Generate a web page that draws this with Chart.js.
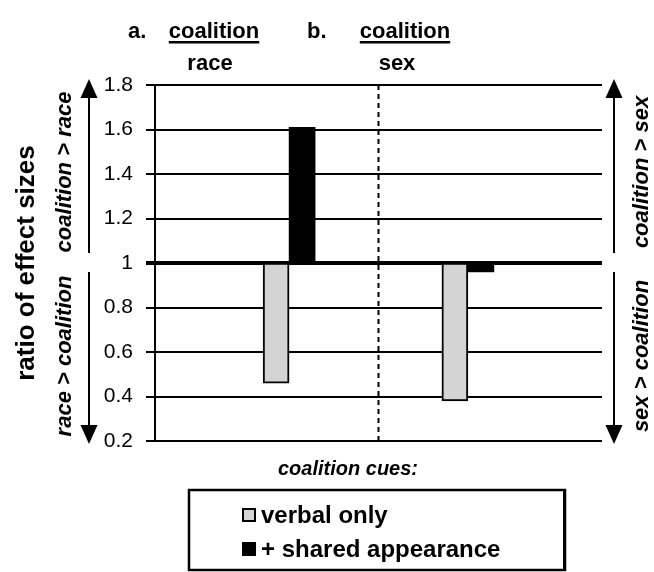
<!DOCTYPE html>
<html><head><meta charset="utf-8">
<script src="https://cdn.jsdelivr.net/npm/chart.js@4"></script>
<style>html,body{margin:0;padding:0;background:#fff;}</style>
</head><body>
<canvas id="c" width="654" height="572"></canvas>
<script>
// ---- data ----
const panelLetters = ['a.', 'b.'];
const panelHeads = ['coalition', 'coalition'];
const panelSubs = ['race', 'sex'];
const groups = [0, 1];
const verbalOnly = [0.46, 0.38];
const sharedAppearance = [1.61, 0.96];
const baseline = 1;
const yTickValues = [0.2, 0.4, 0.6, 0.8, 1, 1.2, 1.4, 1.6, 1.8];
const seriesNames = ['verbal only', '+ shared appearance'];
const legendTitle = 'coalition cues:';
const yTitle = 'ratio of effect sizes';
const sideUp = ['coalition > race', 'coalition > sex'];
const sideDown = ['race > coalition', 'sex > coalition'];

const FF = "'Liberation Sans', Arial, sans-serif";
const GRAY = '#d4d4d4';

const toPoints = vals => groups.map((g, i) => ({ x: g, y: [baseline, vals[i]] }));

const decor = {
  id: 'decor',
  beforeDatasetsDraw(chart) {
    const { ctx, chartArea, scales } = chart;
    const x = scales.x.getPixelForValue(0.5);
    ctx.save();
    ctx.strokeStyle = '#000';
    ctx.lineWidth = 2;
    ctx.setLineDash([5, 4]);
    ctx.beginPath();
    ctx.moveTo(x, chartArea.top);
    ctx.lineTo(x, chartArea.bottom);
    ctx.stroke();
    ctx.restore();
  },
  afterDraw(chart) {
    const { ctx, scales } = chart;
    const y = scales.y;
    ctx.save();
    ctx.fillStyle = '#000';
    ctx.strokeStyle = '#000';
    // panel headings
    const letterX = [128, 307];
    const headX = [214, 405];
    const subX = [210, 397];
    ctx.textBaseline = 'alphabetic';
    ctx.font = 'bold 22px ' + FF;
    for (let i = 0; i < panelLetters.length; i++) {
      ctx.textAlign = 'left';
      ctx.fillText(panelLetters[i], letterX[i], 38);
      ctx.textAlign = 'center';
      ctx.fillText(panelHeads[i], headX[i], 38);
      const w = ctx.measureText(panelHeads[i]).width;
      ctx.fillRect(headX[i] - w / 2, 41, w, 2.5);
      ctx.fillText(panelSubs[i], subX[i], 70);
    }
    // side arrows
    const pTop = y.getPixelForValue(1.8), pOne = y.getPixelForValue(1), pBot = y.getPixelForValue(0.2);
    const arrow = (ax, y0, y1) => {
      const dir = y1 < y0 ? 1 : -1;
      ctx.lineWidth = 2;
      ctx.beginPath();
      ctx.moveTo(ax, y0);
      ctx.lineTo(ax, y1 + dir * 14);
      ctx.stroke();
      ctx.beginPath();
      ctx.moveTo(ax, y1);
      ctx.lineTo(ax - 8.5, y1 + dir * 19);
      ctx.lineTo(ax + 8.5, y1 + dir * 19);
      ctx.closePath();
      ctx.fill();
    };
    const arrowX = [89, 614];
    const labelX = [65, 642];
    ctx.font = 'italic bold 22px ' + FF;
    ctx.textAlign = 'center';
    ctx.textBaseline = 'middle';
    for (let i = 0; i < 2; i++) {
      arrow(arrowX[i], pOne - 10, pTop - 6);
      arrow(arrowX[i], pOne + 9, pBot + 3);
      const rot = (t, cx, cy) => {
        ctx.save();
        ctx.translate(cx, cy);
        ctx.rotate(-Math.PI / 2);
        ctx.fillText(t, 0, 0);
        ctx.restore();
      };
      rot(sideUp[i], labelX[i], (pTop + pOne) / 2 - 2);
      rot(sideDown[i], labelX[i], (pOne + pBot) / 2 + 4);
    }
    // legend
    ctx.font = 'italic bold 20px ' + FF;
    ctx.textAlign = 'center';
    ctx.textBaseline = 'middle';
    ctx.fillText(legendTitle, 348, 469);
    ctx.lineWidth = 2.5;
    ctx.strokeRect(189, 490, 376, 80);
    ctx.fillRect(563, 491, 3, 80);
    const rowsY = [515, 549];
    ctx.font = 'bold 24px ' + FF;
    ctx.textAlign = 'left';
    chart.data.datasets.forEach((ds, i) => {
      const cy = rowsY[i];
      ctx.fillStyle = ds.backgroundColor;
      ctx.fillRect(242, cy - 7, 14, 14);
      if (ds.borderWidth) {
        ctx.lineWidth = 2;
        ctx.strokeStyle = '#000';
        ctx.strokeRect(243, cy - 6, 12, 12);
      }
      ctx.fillStyle = '#000';
      ctx.fillText(ds.label, 261, cy + 1);
    });
    ctx.restore();
  }
};

new Chart(document.getElementById('c'), {
  type: 'bar',
  data: {
    datasets: [
      { label: seriesNames[0], data: toPoints(verbalOnly), backgroundColor: GRAY, borderColor: '#000', borderWidth: 2, borderSkipped: false },
      { label: seriesNames[1], data: toPoints(sharedAppearance), backgroundColor: '#000', borderColor: '#000', borderWidth: 0, borderSkipped: false }
    ]
  },
  options: {
    responsive: false,
    animation: false,
    devicePixelRatio: 1,
    barThickness: 26,
    layout: { padding: { top: 85, bottom: 131, left: 0, right: 52 } },
    plugins: { legend: { display: false }, tooltip: { enabled: false } },
    scales: {
      x: { type: 'linear', display: false, offset: false, min: -0.75, max: 1.75 },
      y: {
        min: 0.2, max: 1.8,
        afterBuildTicks: s => { s.ticks = yTickValues.map(v => ({ value: v })); },
        afterFit: s => { s.width = 155; },
        ticks: {
          color: '#000', padding: 13,
          font: { family: FF, size: 21 },
          callback: v => String(+Number(v).toFixed(1))
        },
        grid: {
          color: '#000', tickColor: '#000', tickLength: 9,
          lineWidth: c => (c.tick && c.tick.value === 1 ? 4 : 2)
        },
        border: { display: true, color: '#000', width: 2 },
        title: {
          display: true, text: yTitle, color: '#000',
          font: { family: FF, size: 26, weight: 'bold' },
          padding: { top: 11, bottom: 0 }
        }
      }
    }
  },
  plugins: [decor]
});
</script>
</body></html>
